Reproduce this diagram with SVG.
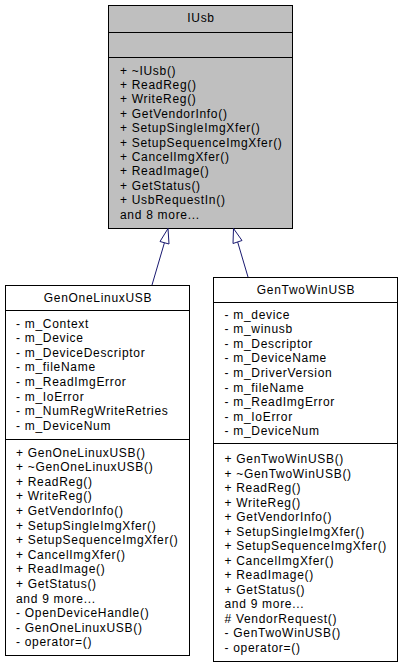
<svg xmlns="http://www.w3.org/2000/svg" width="403" height="668" viewBox="0 0 403 668">
<style>
text{font-family:"Liberation Sans",Arial,Helvetica,sans-serif;font-size:12px;letter-spacing:0.7px;fill:#000}
.c{text-anchor:middle}
.box{stroke:#000;stroke-width:1}
.g{fill:#bfbfbf}
.w{fill:#fff}
.edge{stroke:#191970;stroke-width:1;fill:none}
.head{stroke:#191970;stroke-width:1;fill:#fff}
</style>
<rect width="403" height="668" fill="#fff"/>
<g id="IUsb">
<rect class="box g" x="108.5" y="5.5" width="184" height="223"/>
<line class="box" x1="108.5" y1="32.5" x2="292.5" y2="32.5"/>
<line class="box" x1="108.5" y1="57.5" x2="292.5" y2="57.5"/>
<text class="c" x="201" y="22">IUsb</text>
<text x="120" y="74.5">+ ~IUsb()</text>
<text x="120" y="88.9">+ ReadReg()</text>
<text x="120" y="103.3">+ WriteReg()</text>
<text x="120" y="117.7">+ GetVendorInfo()</text>
<text x="120" y="132.1">+ SetupSingleImgXfer()</text>
<text x="120" y="146.5">+ SetupSequenceImgXfer()</text>
<text x="120" y="160.9">+ CancelImgXfer()</text>
<text x="120" y="175.3">+ ReadImage()</text>
<text x="120" y="189.7">+ GetStatus()</text>
<text x="120" y="204.1">+ UsbRequestIn()</text>
<text x="120" y="218.5">and 8 more...</text>
</g>
<g id="GenOneLinuxUSB">
<rect class="box w" x="5.5" y="285.5" width="184" height="370"/>
<line class="box" x1="5.5" y1="310.5" x2="189.5" y2="310.5"/>
<line class="box" x1="5.5" y1="439.5" x2="189.5" y2="439.5"/>
<text class="c" x="98" y="301.5">GenOneLinuxUSB</text>
<text x="16" y="327.5">- m_Context</text>
<text x="16" y="342.1">- m_Device</text>
<text x="16" y="356.7">- m_DeviceDescriptor</text>
<text x="16" y="371.3">- m_fileName</text>
<text x="16" y="385.9">- m_ReadImgError</text>
<text x="16" y="400.5">- m_IoError</text>
<text x="16" y="415.1">- m_NumRegWriteRetries</text>
<text x="16" y="429.7">- m_DeviceNum</text>
<text x="16" y="456.5">+ GenOneLinuxUSB()</text>
<text x="16" y="471.1">+ ~GenOneLinuxUSB()</text>
<text x="16" y="485.7">+ ReadReg()</text>
<text x="16" y="500.3">+ WriteReg()</text>
<text x="16" y="514.9">+ GetVendorInfo()</text>
<text x="16" y="529.5">+ SetupSingleImgXfer()</text>
<text x="16" y="544.1">+ SetupSequenceImgXfer()</text>
<text x="16" y="558.7">+ CancelImgXfer()</text>
<text x="16" y="573.3">+ ReadImage()</text>
<text x="16" y="587.9">+ GetStatus()</text>
<text x="16" y="602.5">and 9 more...</text>
<text x="16" y="617.1">- OpenDeviceHandle()</text>
<text x="16" y="631.7">- GenOneLinuxUSB()</text>
<text x="16" y="646.3">- operator=()</text>
</g>
<g id="GenTwoWinUSB">
<rect class="box w" x="213.5" y="277.5" width="184" height="384"/>
<line class="box" x1="213.5" y1="302.5" x2="397.5" y2="302.5"/>
<line class="box" x1="213.5" y1="443.5" x2="397.5" y2="443.5"/>
<text class="c" x="306" y="294">GenTwoWinUSB</text>
<text x="224.5" y="318.5">- m_device</text>
<text x="224.5" y="333.1">- m_winusb</text>
<text x="224.5" y="347.7">- m_Descriptor</text>
<text x="224.5" y="362.3">- m_DeviceName</text>
<text x="224.5" y="376.9">- m_DriverVersion</text>
<text x="224.5" y="391.5">- m_fileName</text>
<text x="224.5" y="406.1">- m_ReadImgError</text>
<text x="224.5" y="420.7">- m_IoError</text>
<text x="224.5" y="435.3">- m_DeviceNum</text>
<text x="224.5" y="463">+ GenTwoWinUSB()</text>
<text x="224.5" y="477.5">+ ~GenTwoWinUSB()</text>
<text x="224.5" y="492">+ ReadReg()</text>
<text x="224.5" y="506.5">+ WriteReg()</text>
<text x="224.5" y="521">+ GetVendorInfo()</text>
<text x="224.5" y="535.5">+ SetupSingleImgXfer()</text>
<text x="224.5" y="550">+ SetupSequenceImgXfer()</text>
<text x="224.5" y="564.5">+ CancelImgXfer()</text>
<text x="224.5" y="579">+ ReadImage()</text>
<text x="224.5" y="593.5">+ GetStatus()</text>
<text x="224.5" y="608">and 9 more...</text>
<text x="224.5" y="622.5"># VendorRequest()</text>
<text x="224.5" y="637">- GenTwoWinUSB()</text>
<text x="224.5" y="651.5">- operator=()</text>
</g>
<g id="connectors">
<path class="edge" d="M152,285 L164.5,242.5"/>
<polygon class="head" points="168,228.5 160,241.5 169,244"/>
<path class="edge" d="M248,277 L237.5,241.5"/>
<polygon class="head" points="233.5,228.5 233,243.5 242,240.5"/>
</g>
</svg>
